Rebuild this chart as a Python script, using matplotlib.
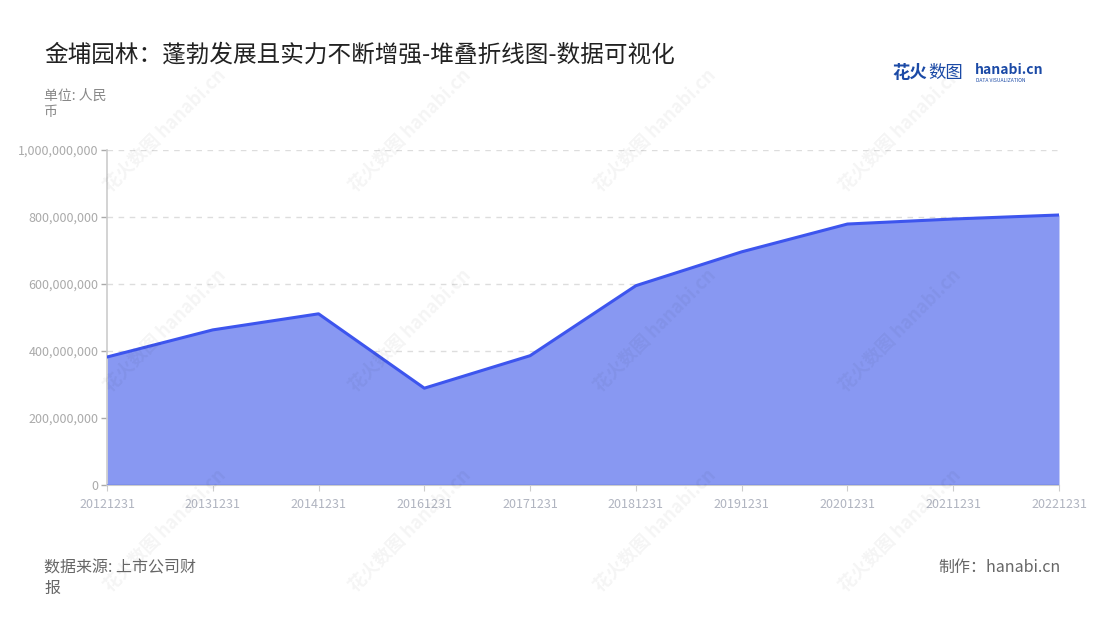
import numpy as np
import matplotlib
matplotlib.use('Agg')
import matplotlib.pyplot as plt
from matplotlib.ticker import FuncFormatter

plt.rcParams['font.family'] = ['Noto Sans CJK SC', 'DejaVu Sans']

# data
dates = ['20121231', '20131231', '20141231', '20161231', '20171231',
         '20181231', '20191231', '20201231', '20211231', '20221231']
revenue = [382e6, 463e6, 511e6, 289e6, 386e6,
           595e6, 696e6, 779e6, 794e6, 806e6]
yticks = [0, 200e6, 400e6, 600e6, 800e6, 1000e6]

title = '金埔园林：蓬勃发展且实力不断增强-堆叠折线图-数据可视化'
unit = '单位: 人民\n币'
source = '数据来源: 上市公司财\n报'
maker = '制作：hanabi.cn'

line_c = '#3d55ee'
fill_c = '#8898f2'
grey = '#aaaaaa'

fig = plt.figure(figsize=(11, 6.2), dpi=100)
ax = fig.add_axes([107/1100, 1-485/620, (1059-107)/1100, (485-150)/620])

x = np.arange(len(dates))
ax.fill_between(x, 0, revenue, color=fill_c, lw=0, zorder=2)
ax.plot(x, revenue, color=line_c, lw=2.2, zorder=3, solid_joinstyle='round')
ax.axhline(0, color='#7c8ee8', lw=1.2, zorder=3)

ax.set_xlim(0, len(dates)-1)
ax.set_ylim(0, 1e9)
ax.set_xticks(x)
ax.set_xticklabels(dates, fontsize=9, color='#b0b4c0')
ax.set_yticks(yticks)
ax.yaxis.set_major_formatter(FuncFormatter(lambda v, p: '{:,.0f}'.format(v)))
ax.tick_params(axis='y', labelsize=9, colors=grey, length=4, width=1, pad=2)
ax.tick_params(axis='x', colors='#cccccc', labelcolor='#b0b4c0', length=4, pad=5)
ax.grid(axis='y', color='#dddddd', ls=(0, (4, 4)), lw=1, zorder=1)
for s in ['top', 'right']:
    ax.spines[s].set_visible(False)
ax.spines['left'].set_color('#cccccc')
ax.spines['left'].set_linewidth(1.2)
ax.spines['bottom'].set_color('#cccccc')

# watermarks
for wx in [165, 410, 655, 900]:
    for wy in [130, 330, 530]:
        fig.text(wx/1100, 1-wy/620, '花火数图 hanabi.cn', fontsize=13,
                 color='#000000', alpha=0.045, rotation=45,
                 ha='center', va='center', fontweight='bold')

fig.text(44/1100, 1-55/620, title, fontsize=17, color='#222222', va='center')
fig.text(44/1100, 1-104/620, unit, fontsize=10, color='#888888', va='center',
         linespacing=1.2)
fig.text(44/1100, 1-578/620, source, fontsize=11.5, color='#666666', va='center',
         linespacing=1.3)
fig.text(1061/1100, 1-567/620, maker, fontsize=11.5, color='#666666',
         va='center', ha='right')

# logo
fig.text(892/1100, 1-73/620, '花火', fontsize=12.5, color='#1b4aa6',
         fontweight='bold', va='center')
fig.text(928/1100, 1-73/620, '数图', fontsize=12.5, color='#1b4aa6', va='center')
fig.text(975/1100, 1-70/620, 'hanabi.cn', fontsize=10, color='#1b4aa6',
         fontweight='bold', va='center')
fig.text(976/1100, 1-80/620, 'DATA VISUALIZATION', fontsize=3.6,
         color='#1b4aa6', va='center')

fig.savefig('out.png', dpi=100)
